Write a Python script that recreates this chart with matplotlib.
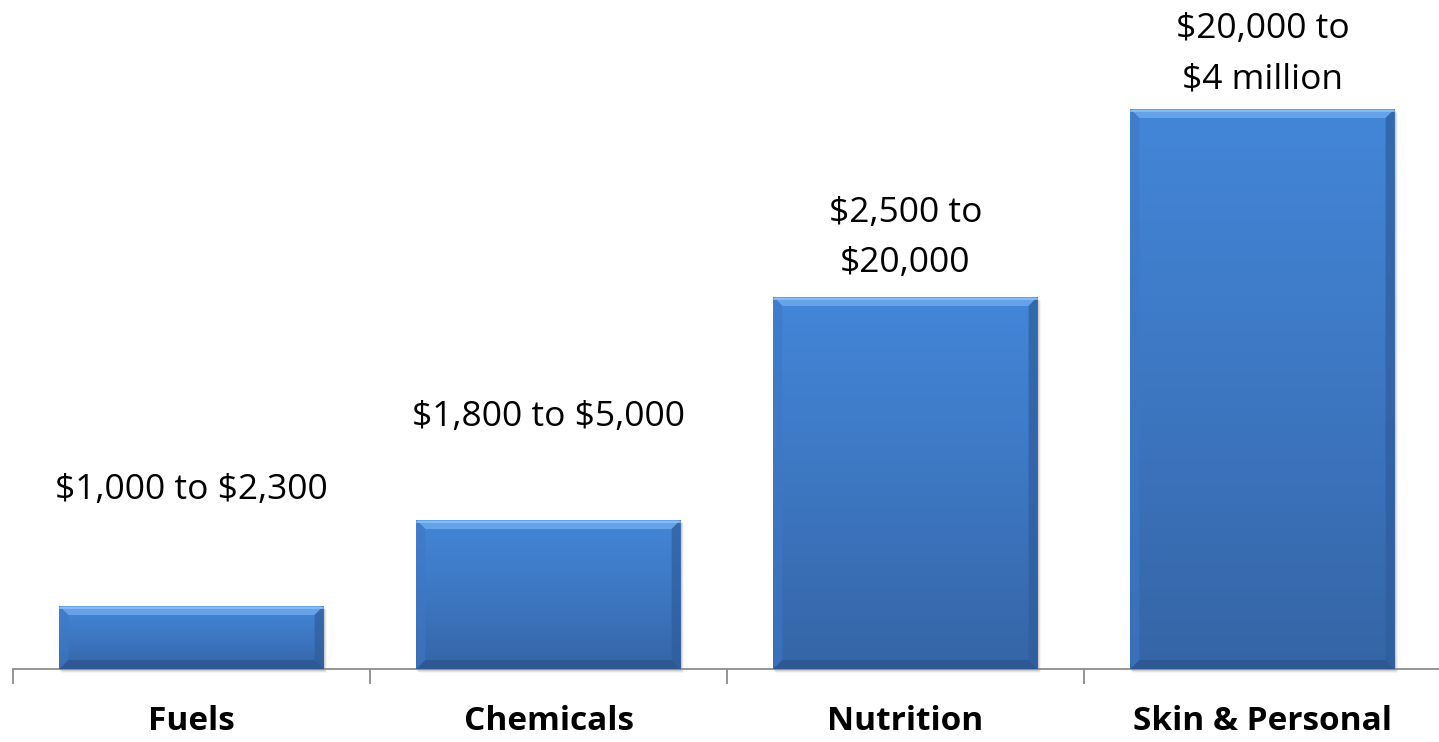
import matplotlib.pyplot as plt
import numpy as np
from matplotlib.patches import Polygon, Rectangle
from matplotlib.colors import LinearSegmentedColormap

# data
categories = ['Fuels', 'Chemicals', 'Nutrition', 'Skin & Personal']
bar_heights = [63, 149, 372, 560]   # relative value (arbitrary scale, no y axis shown)
price_labels = ['$1,000 to $2,300', '$1,800 to $5,000', '$2,500 to\n$20,000', '$20,000 to\n$4 million']

# layout
label_offsets = [116, 103, 59, 55]   # pixels above bar top
bar_width = 0.74
bevel_px = 9

W, H = 1439, 742
fig = plt.figure(figsize=(W / 100, H / 100), dpi=100)
ax = fig.add_axes([13 / W, 73 / H, 1428 / W, 669 / H])

x = np.arange(len(categories))
bars = ax.bar(x, bar_heights, width=bar_width, color='#407fcf', zorder=2)

ax.set_xlim(-0.5, len(categories) - 0.5)
ax.set_ylim(0, 669)

# pixel -> data scale
px_x = 4 / 1428
px_y = 669 / 669

grad = LinearSegmentedColormap.from_list('g', ['#3565a6', '#3d77c2', '#4386d8'])

for b in bars:
    x0, y0 = b.get_x(), b.get_y()
    x1, y1 = x0 + b.get_width(), y0 + b.get_height()
    # soft shadow
    for k, a in enumerate([0.10, 0.07, 0.04]):
        sh = Rectangle((x0 + (k + 1) * px_x, y0 - (k + 2) * px_y), x1 - x0, y1 - y0,
                       color='black', alpha=a, lw=0, zorder=1, clip_on=False)
        ax.add_patch(sh)
    # vertical gradient
    g = np.linspace(0, 1, 256).reshape(-1, 1)
    im = ax.imshow(g, extent=(x0, x1, y0, y1), origin='lower', cmap=grad,
                   aspect='auto', zorder=3, interpolation='bicubic')
    im.set_clip_path(b)
    bx, by = bevel_px * px_x, bevel_px * px_y
    top = Polygon([(x0, y1), (x1, y1), (x1 - bx, y1 - by), (x0 + bx, y1 - by)],
                  closed=True, color='#65a2e8', lw=0, zorder=4)
    left = Polygon([(x0, y0), (x0, y1), (x0 + bx, y1 - by), (x0 + bx, y0 + by)],
                   closed=True, color='#3d78c6', lw=0, zorder=4, alpha=0.6)
    right = Polygon([(x1, y0), (x1, y1), (x1 - bx, y1 - by), (x1 - bx, y0 + by)],
                    closed=True, color='#2f5d9c', lw=0, zorder=4, alpha=0.7)
    bottom = Polygon([(x0, y0), (x1, y0), (x1 - bx, y0 + by), (x0 + bx, y0 + by)],
                     closed=True, color='#2c5590', lw=0, zorder=4, alpha=0.8)
    for p in (top, left, right, bottom):
        ax.add_patch(p)
    # thin top highlight line
    ax.plot([x0 + px_x, x1 - px_x], [y1 - 1.5 * px_y] * 2, color='#8cc0f5', lw=1.2, zorder=5)

for i, (h, lab) in enumerate(zip(bar_heights, price_labels)):
    ax.annotate(lab, xy=(i, h), xytext=(0, label_offsets[i]), textcoords='offset pixels',
                ha='center', va='center', fontsize=25.5, family='Open Sans', color='black',
                linespacing=1.65, annotation_clip=False, parse_math=False)

# axis styling
for s in ['top', 'left', 'right']:
    ax.spines[s].set_visible(False)
ax.spines['bottom'].set_color('#8c8c8c')
ax.spines['bottom'].set_linewidth(1.3)
ax.set_yticks([])
ax.set_xticks(x)
ax.set_xticklabels(categories, fontsize=24, fontweight='bold', family='Open Sans')
ax.tick_params(axis='x', which='major', length=0, pad=26)
ax.set_xticks(np.arange(-0.5, len(categories)), minor=True)
ax.tick_params(axis='x', which='minor', length=11, width=1.3, color='#8c8c8c')

fig.savefig('out.png', dpi=100)
